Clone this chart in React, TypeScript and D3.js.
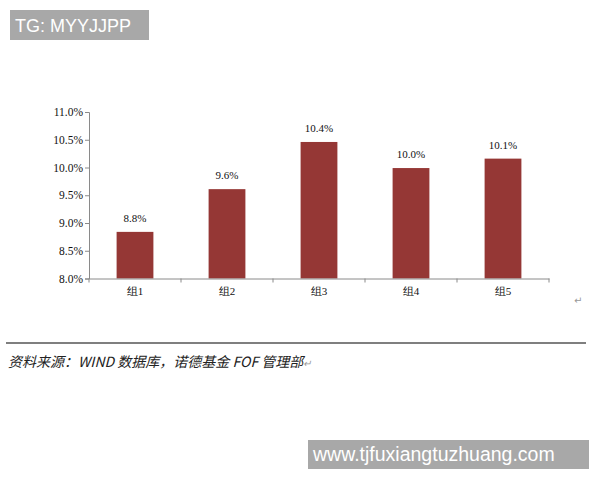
import React, { useRef, useEffect } from 'react';
import * as d3 from 'd3';

// values (percent)
const groups = ['组1', '组2', '组3', '组4', '组5'];
const values = [8.84, 9.61, 10.46, 9.99, 10.16];
const valueLabels = ['8.8%', '9.6%', '10.4%', '10.0%', '10.1%'];
const yTicks = [8.0, 8.5, 9.0, 9.5, 10.0, 10.5, 11.0];

const W = 600;
const H = 480;
const plot = { left: 89, right: 549, top: 112, bottom: 278.5 };
const barColor = '#953735';
const axisColor = '#8a8a8a';
const serif = '"Liberation Serif", "Times New Roman", serif';

const App: React.FC = () => {
  const ref = useRef<SVGSVGElement>(null);

  useEffect(() => {
    if (!ref.current) return;
    const svg = d3.select(ref.current);

    const x = d3
      .scaleBand()
      .domain(groups)
      .range([plot.left, plot.right])
      .paddingInner(0.6)
      .paddingOuter(0.3);

    const y = d3.scaleLinear().domain([8, 11]).range([plot.bottom, plot.top]);

    // y axis
    const yAxis = svg
      .select<SVGGElement>('.y-axis')
      .attr('transform', `translate(${plot.left},0)`)
      .call(
        d3
          .axisLeft(y)
          .tickValues(yTicks)
          .tickSize(4)
          .tickPadding(2)
          .tickFormat((d: any) => (+d).toFixed(1) + '%')
      );
    yAxis.select('.domain').attr('stroke', axisColor);
    yAxis.selectAll('.tick line').attr('stroke', axisColor);
    yAxis
      .selectAll('.tick text')
      .attr('fill', '#111')
      .style('font-family', serif)
      .style('font-size', '11.5px');

    // x axis: labels under bar centres, ticks at category boundaries
    const xAxis = svg
      .select<SVGGElement>('.x-axis')
      .attr('transform', `translate(0,${plot.bottom})`)
      .call(d3.axisBottom(x).tickSize(0).tickPadding(9).tickSizeOuter(0));
    xAxis.select('.domain').attr('stroke', axisColor);
    xAxis
      .selectAll('.tick text')
      .attr('fill', '#111')
      .style('font-family', serif)
      .style('font-size', '11px');

    const step = x.step();
    const boundaries = d3.range(groups.length + 1).map((i) => plot.left + i * step);
    svg
      .select('.x-bounds')
      .selectAll('line')
      .data(boundaries)
      .join('line')
      .attr('x1', (d: number) => d)
      .attr('x2', (d: number) => d)
      .attr('y1', plot.bottom)
      .attr('y2', plot.bottom + 4)
      .attr('stroke', axisColor);

    // bars
    svg
      .select('.bars')
      .selectAll('rect')
      .data(values)
      .join('rect')
      .attr('x', (_d: number, i: number) => x(groups[i]) as number)
      .attr('y', (d: number) => y(d))
      .attr('width', x.bandwidth())
      .attr('height', (d: number) => plot.bottom - y(d))
      .attr('fill', barColor);

    // value labels
    svg
      .select('.labels')
      .selectAll('text')
      .data(values)
      .join('text')
      .attr('x', (_d: number, i: number) => (x(groups[i]) as number) + x.bandwidth() / 2)
      .attr('y', (d: number) => y(d) - 10)
      .attr('text-anchor', 'middle')
      .attr('fill', '#111')
      .style('font-family', serif)
      .style('font-size', '11px')
      .text((_d: number, i: number) => valueLabels[i]);
  }, []);

  return (
    <svg
      ref={ref}
      width={W}
      height={H}
      style={{ position: 'absolute', left: 0, top: 0, background: '#fff' }}
    >
      <rect x={0} y={0} width={W} height={H} fill="#fff" />

      <rect x={10} y={10} width={139} height={30} fill="#a8a8a8" />
      <text
        x={15}
        y={32}
        fill="#fff"
        style={{ fontFamily: '"Liberation Sans", Arial, sans-serif', fontSize: 18 }}
      >
        TG: MYYJJPP
      </text>

      <g className="bars" />
      <g className="labels" />
      <g className="y-axis" />
      <g className="x-axis" />
      <g className="x-bounds" />

      <text x={574} y={304} fill="#999" style={{ fontSize: 10, fontFamily: 'DejaVu Sans' }}>
        ↵
      </text>

      <line x1={6} x2={586} y1={343} y2={343} stroke="#555" strokeWidth={1.5} />
      <text
        x={8}
        y={367}
        fill="#222"
        style={{
          fontFamily: '"Noto Sans CJK SC", sans-serif',
          fontSize: 14,
          fontStyle: 'italic',
        }}
      >
        资料来源：WIND 数据库，诺德基金 FOF 管理部
        <tspan fill="#999" style={{ fontSize: 10 }}>↵</tspan>
      </text>

      <rect x={308} y={440} width={281} height={29} fill="#a8a8a8" />
      <text
        x={313}
        y={461}
        fill="#fff"
        style={{ fontFamily: '"Liberation Sans", Arial, sans-serif', fontSize: 19.5 }}
      >
        www.tjfuxiangtuzhuang.com
      </text>
    </svg>
  );
};

export default App;
